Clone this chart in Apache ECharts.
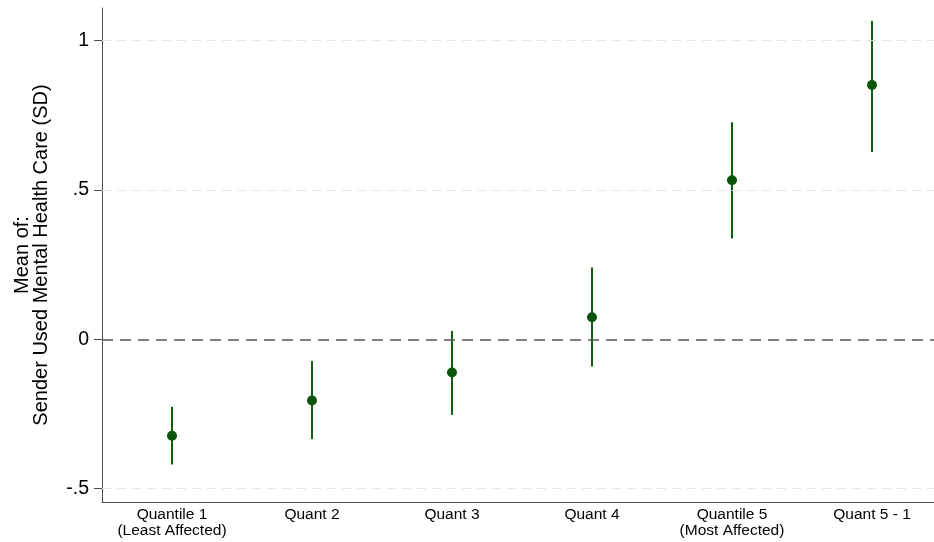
<!DOCTYPE html>
<html lang="en">
<head>
    <meta charset="UTF-8"/>
    <title>Mental health care by quantile</title>
    <script type="text/javascript" src="https://cdn.jsdelivr.net/npm/echarts@6/dist/echarts.min.js"></script>
    <style>
        html, body { margin: 0; padding: 0; background: #fff; }
        #main { width: 934px; height: 542px; }
    </style>
</head>
<body>
<div id="main"></div>
<script type="text/javascript">
// data
var categories = ['Quantile 1\n(Least Affected)', 'Quant 2', 'Quant 3', 'Quant 4', 'Quantile 5\n(Most Affected)', 'Quant 5 - 1'];
var means  = [-0.323, -0.205, -0.111, 0.074, 0.533, 0.852];
var ciLow  = [-0.419, -0.334, -0.253, -0.091, 0.338, 0.627];
var ciHigh = [-0.226, -0.073, 0.028, 0.241, 0.727, 1.066];
var yTicks = [-0.5, 0, 0.5, 1];
var yTickText = {'-0.5': '-.5', '0': '0', '0.5': '.5', '1': '1'};

var green = '#0a550a';
var font = 'Liberation Sans';

var myChart = echarts.init(document.getElementById('main'));

// x is the category index; the plot is cut off on the right, so the axis stops at 5.443
var catIdx = [];
var ciData = [];
var meanData = [];
for (var i = 0; i < categories.length; i++) {
    catIdx.push(i);
    ciData.push([i, ciLow[i], ciHigh[i]]);
    meanData.push([i, means[i]]);
}

var option = {
    backgroundColor: '#fff',
    animation: false,
    textStyle: { fontFamily: font },
    grid: { left: 102, right: 0, top: 8, bottom: 40, containLabel: false },
    xAxis: {
        type: 'value',
        min: -0.5,
        max: 5.443,
        axisLine: { show: true, onZero: false, lineStyle: { color: '#4d4d4d', width: 1 } },
        axisTick: { show: false },
        splitLine: { show: false },
        axisLabel: {
            color: '#000', fontSize: 15.5, lineHeight: 16, margin: 5,
            fontFamily: font,
            customValues: catIdx,
            formatter: function (v) { return categories[v]; }
        }
    },
    yAxis: {
        type: 'value',
        min: -0.5448,
        max: 1.1096,
        name: 'Mean of:\nSender Used Mental Health Care (SD)',
        nameLocation: 'middle',
        nameRotate: 90,
        nameGap: 51,
        nameTextStyle: { color: '#000', fontSize: 20, lineHeight: 19, fontFamily: font },
        axisLine: { show: true, onZero: false, lineStyle: { color: '#4d4d4d', width: 1 } },
        axisTick: { show: true, length: 8, customValues: yTicks, lineStyle: { color: '#4d4d4d' } },
        splitLine: { show: false },
        axisLabel: {
            color: '#000', fontSize: 19.5, margin: 13, fontFamily: font,
            customValues: yTicks,
            formatter: function (v) { return yTickText[String(v)]; }
        }
    },
    series: [
        {
            type: 'line',
            data: [],
            silent: true,
            z: 1,
            markLine: {
                silent: true,
                symbol: 'none',
                label: { show: false },
                data: [
                    { yAxis: -0.5, lineStyle: { color: '#e6e6e6', type: [9, 6], width: 1 } },
                    { yAxis: 0.5, lineStyle: { color: '#e6e6e6', type: [9, 6], width: 1 } },
                    { yAxis: 1, lineStyle: { color: '#e6e6e6', type: [9, 6], width: 1 } },
                    { yAxis: 0, lineStyle: { color: '#555', type: [11, 7], width: 1.5 } }
                ]
            }
        },
        {
            type: 'custom',
            z: 3,
            data: ciData,
            renderItem: function (params, api) {
                var lo = api.coord([api.value(0), api.value(1)]);
                var hi = api.coord([api.value(0), api.value(2)]);
                return {
                    type: 'line',
                    shape: { x1: lo[0], y1: lo[1], x2: hi[0], y2: hi[1] },
                    style: { stroke: '#0f5f0f', lineWidth: 2 }
                };
            }
        },
        {
            type: 'scatter',
            z: 4,
            data: meanData,
            symbol: 'circle',
            symbolSize: 10,
            itemStyle: { color: green, opacity: 1 }
        }
    ]
};

myChart.setOption(option);
</script>
</body>
</html>
